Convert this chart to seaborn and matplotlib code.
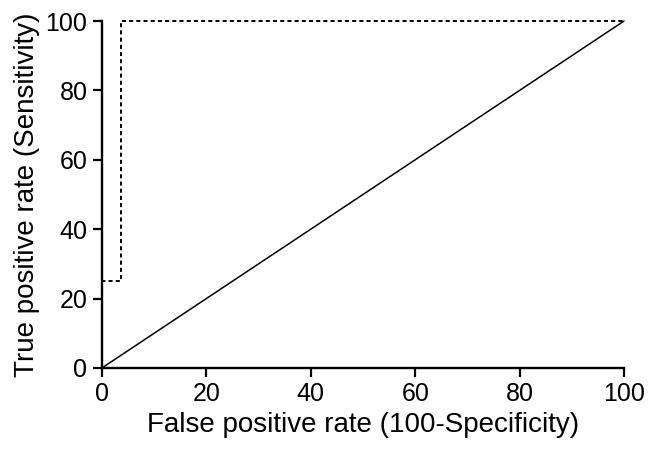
import matplotlib
matplotlib.use("Agg")
import matplotlib.pyplot as plt
import seaborn as sns
import pandas as pd

sns.set_theme(style="ticks")
plt.rcParams['font.family'] = ['Liberation Sans', 'DejaVu Sans']

# ROC curve points (step) and reference line
roc_fpr = [0, 0, 3.6, 3.6, 100]
roc_tpr = [0, 25, 25, 100, 100]
ref_x = [0, 100]
ref_y = [0, 100]
ticks = [0, 20, 40, 60, 80, 100]

roc = pd.DataFrame({"fpr": roc_fpr, "tpr": roc_tpr})
ref = pd.DataFrame({"x": ref_x, "y": ref_y})

fig = plt.figure(figsize=(6.5, 4.57), dpi=100)
ax = fig.add_axes([0.157, 0.195, 0.803, 0.759])

sns.lineplot(data=ref, x="x", y="y", ax=ax, color="black", linewidth=1.1,
             sort=False, estimator=None)
sns.lineplot(data=roc, x="fpr", y="tpr", ax=ax, color="black", linewidth=1.4,
             linestyle=(0, (2.1, 1.6)), sort=False, estimator=None)

ax.set_xlim(0, 100)
ax.set_ylim(0, 100)
ax.set_xticks(ticks)
ax.set_yticks(ticks)
ax.tick_params(labelsize=18, length=6.5, width=1.6, direction="out",
               color="black", labelcolor="black", pad=4)
ax.set_xlabel("False positive rate (100-Specificity)", fontsize=20, color="black", labelpad=4)
ax.set_ylabel("True positive rate (Sensitivity)", fontsize=20, color="black", labelpad=4)
for s in ["left", "bottom"]:
    ax.spines[s].set_linewidth(1.7)
    ax.spines[s].set_color("black")
sns.despine(ax=ax)
for s in ax.spines.values():
    s.set_clip_on(False)
for line in ax.lines:
    line.set_clip_on(False)

fig.savefig("out.png", dpi=100)
